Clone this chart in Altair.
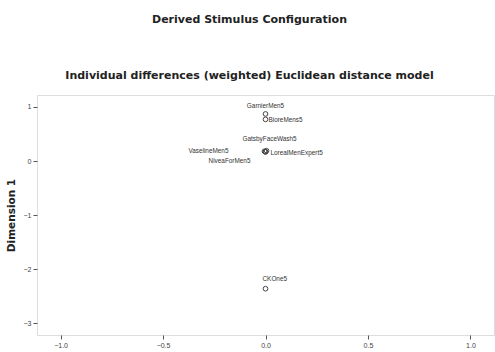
import altair as alt
import pandas as pd

names = ["GarnierMen5", "BioreMens5", "GatsbyFaceWash5", "VaselineMen5",
         "LorealMenExpert5", "NiveaForMen5", "CKOne5"]
dim2 = [0.0, 0.0, 0.005, -0.005, 0.0, 0.0, 0.0]
dim1 = [0.87, 0.77, 0.19, 0.18, 0.17, 0.17, -2.36]

x_ticks = [-1.0, -0.5, 0.0, 0.5, 1.0]
y_ticks = [1, 0, -1, -2, -3]

df = pd.DataFrame({"name": names, "Dimension 2": dim2, "Dimension 1": dim1})

FONT = "Liberation Sans"
TFONT = "DejaVu Sans"

# label placement style per stimulus (align, dx, dy)
placement = {
    "GarnierMen5": ("center", 0, -8),
    "BioreMens5": ("left", 3, 1),
    "GatsbyFaceWash5": ("center", 3, -12),
    "VaselineMen5": ("right", -36, 0),
    "LorealMenExpert5": ("left", 5, 1),
    "NiveaForMen5": ("center", -36, 9),
    "CKOne5": ("left", -3, -10),
}

xs = alt.Scale(domain=[-1.115, 1.115], nice=False, zero=False)
ys = alt.Scale(domain=[-3.215, 1.22], nice=False, zero=False)

base = alt.Chart(df)

points = base.mark_point(shape="circle", filled=False, size=22, color="#444",
                         strokeWidth=1, opacity=1).encode(
    x=alt.X("Dimension 2:Q", scale=xs,
            axis=alt.Axis(values=x_ticks, format=".1f", title=None, grid=False,
                          tickSize=4, tickColor="#555", domain=False,
                          labelFont=FONT, labelFontSize=7, labelColor="#444",
                          labelPadding=2)),
    y=alt.Y("Dimension 1:Q", scale=ys,
            axis=alt.Axis(values=y_ticks, format="d", title="Dimension 1", grid=False,
                          tickSize=4, tickColor="#555", domain=False,
                          labelFont=FONT, labelFontSize=7, labelColor="#444",
                          labelPadding=2, titleFont=TFONT, titleFontSize=10.5,
                          titleFontWeight="bold", titleColor="#222", titleX=-21)),
)

layers = [points]
for nm, (al, dx, dy) in placement.items():
    layers.append(
        base.transform_filter(alt.datum.name == nm).mark_text(
            align=al, baseline="middle", dx=dx, dy=dy, font=FONT,
            fontSize=6.4, color="#333").encode(
            x="Dimension 2:Q", y="Dimension 1:Q", text="name:N")
    )

chart = alt.layer(*layers).properties(
    width=457, height=240,
    autosize=alt.AutoSizeParams(type="none"),
    padding={"left": 37, "top": 95, "right": 1, "bottom": 17},
    title=alt.TitleParams(
        text="Derived Stimulus Configuration",
        subtitle="Individual differences (weighted) Euclidean distance model",
        font=TFONT, fontSize=11, fontWeight="bold", color="#222",
        subtitleFont=TFONT, subtitleFontSize=11, subtitleFontWeight="bold",
        subtitleColor="#222", subtitlePadding=45, offset=14, dx=-16,
        anchor="middle"),
).configure_view(fill="#f0f0f0", stroke="#888", strokeWidth=1).configure(
    background="white")

chart.save("out.html", embed_options={"renderer": "svg", "actions": False})
